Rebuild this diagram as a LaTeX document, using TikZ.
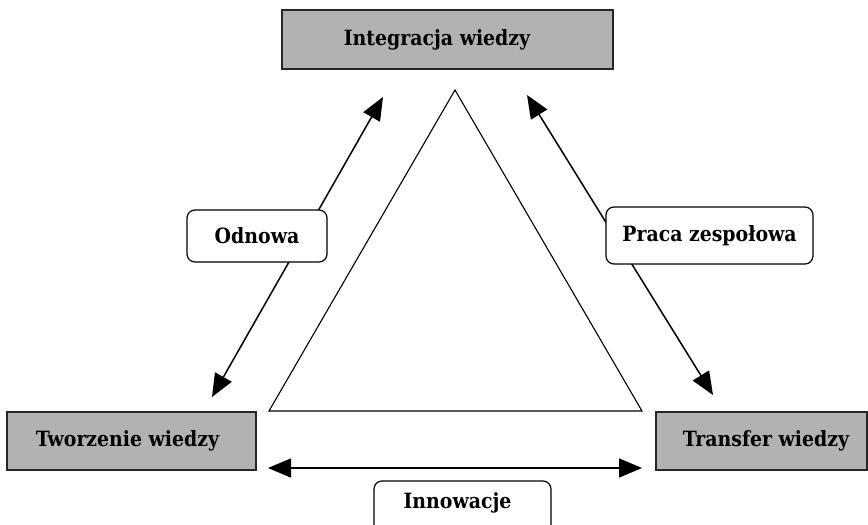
\documentclass[tikz,border=0pt]{standalone}
\usepackage{fontspec}
\setmainfont{DejaVu Serif Condensed}
\usetikzlibrary{arrows.meta}
\begin{document}
\begin{tikzpicture}[x=1pt,y=-1pt,
  font=\bfseries\fontsize{21}{24}\selectfont,
  graybox/.style={draw=black!85, line width=1.6pt, fill=black!30, inner sep=0pt},
  roundbox/.style={draw=black, line width=1.2pt, fill=white, rounded corners=8pt, inner sep=0pt},
  twoway/.style={line width=1.5pt, {Triangle[length=23pt,width=19pt]}-{Triangle[length=23pt,width=19pt]}}
]
\useasboundingbox (0,0) rectangle (868,525);

% corner concepts
\node[graybox, minimum width=331pt, minimum height=59pt] (integ) at (447.5,39.5) {\hspace*{-21pt}Integracja wiedzy};
\node[graybox, minimum width=249pt, minimum height=58pt] (tworz) at (131.5,441) {\hspace*{-8pt}Tworzenie wiedzy};
\node[graybox, minimum width=211pt, minimum height=58pt] (trans) at (761.5,441) {\hspace*{9pt}Transfer wiedzy};

% central triangle
\coordinate (apex) at (455,90);
\coordinate (bl) at (269,411);
\coordinate (br) at (642,411);
\draw[line width=1.1pt] (apex) -- (bl) -- (br) -- cycle;

% arrow end points
\coordinate (lt) at (383,97);
\coordinate (lb) at (212,397);
\coordinate (rt) at (527,95);
\coordinate (rb) at (713,395);
\coordinate (hl) at (268,468);
\coordinate (hr) at (642,468);

\draw[twoway] (lt) -- (lb);
\draw[twoway] (rt) -- (rb);
\draw[twoway] (hl) -- (hr);

% relation labels
\node[roundbox, minimum width=140pt, minimum height=52pt] (odnowa) at (257,236) {Odnowa};
\node[roundbox, minimum width=207pt, minimum height=57pt] (praca) at (709.5,235.5) {Praca zespołowa};
\node[roundbox, minimum width=177pt, minimum height=60pt] (innow) at (462.5,511) {};
\node (innowt) at (457.5,503) {Innowacje};
\end{tikzpicture}
\end{document}
